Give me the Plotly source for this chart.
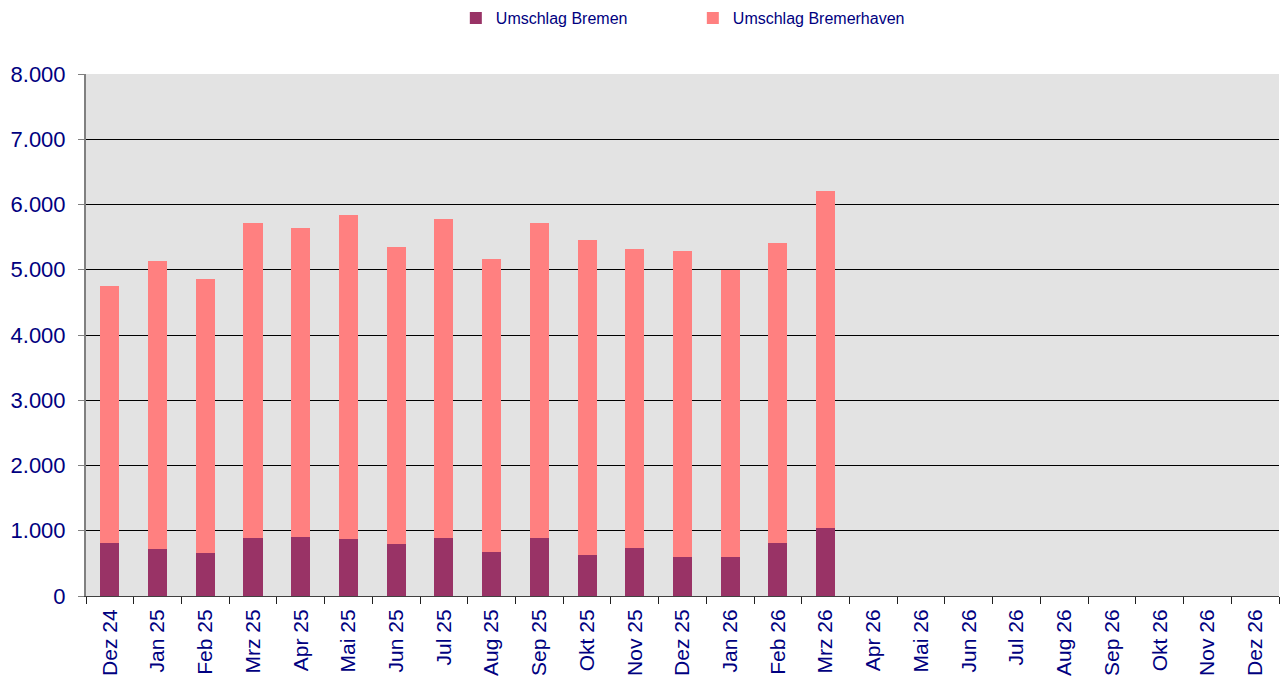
import plotly.graph_objects as go

months = ["Dez 24", "Jan 25", "Feb 25", "Mrz 25", "Apr 25", "Mai 25", "Jun 25", "Jul 25",
          "Aug 25", "Sep 25", "Okt 25", "Nov 25", "Dez 25", "Jan 26", "Feb 26", "Mrz 26",
          "Apr 26", "Mai 26", "Jun 26", "Jul 26", "Aug 26", "Sep 26", "Okt 26", "Nov 26", "Dez 26"]

umschlag_bremen = [813, 726, 654, 886, 906, 875, 798, 896, 669, 890, 634, 736, 603, 603, 813, 1036,
                   None, None, None, None, None, None, None, None, None]
umschlag_bremerhaven = [3945, 4402, 4206, 4826, 4740, 4960, 4556, 4878, 4497, 4822, 4817, 4581, 4679,
                        4397, 4602, 5164, None, None, None, None, None, None, None, None, None]

y_tickvals = [0, 1000, 2000, 3000, 4000, 5000, 6000, 7000, 8000]

navy = "#000080"
font_family = "Liberation Sans, Arial, sans-serif"

fig = go.Figure()
fig.add_trace(go.Bar(x=months, y=umschlag_bremen, name="Umschlag Bremen",
                     marker=dict(color="#993366", line=dict(width=0))))
fig.add_trace(go.Bar(x=months, y=umschlag_bremerhaven, name="Umschlag Bremerhaven",
                     marker=dict(color="#FF8080", line=dict(width=0))))

fig.update_layout(
    barmode="stack",
    bargap=0.6,
    width=1285,
    height=682,
    margin=dict(l=86, r=6, t=74, b=86, autoexpand=False),
    paper_bgcolor="white",
    plot_bgcolor="#E3E3E3",
    separators=",.",
    font=dict(family=font_family, color=navy, size=21),
    legend=dict(orientation="h", x=0.31, xanchor="left", y=1 - 18 / 682, yanchor="middle",
                yref="container",
                font=dict(size=16, color=navy), entrywidth=192, traceorder="normal",
                bgcolor="rgba(0,0,0,0)"),
    showlegend=True,
)
fig.update_xaxes(
    type="category",
    tickangle=-90,
    showline=True, linecolor="#404040", linewidth=1,
    ticks="outside", tickson="boundaries", ticklen=7, tickcolor="#202020",
    showgrid=False,
    ticklabelstandoff=4,
    tickfont=dict(size=21, color=navy),
)
fig.update_yaxes(
    range=[0, 8000],
    tickvals=y_tickvals,
    tickformat=",d",
    showgrid=True, gridcolor="black", gridwidth=1,
    zeroline=False,
    showline=True, linecolor="#808080", linewidth=2,
    ticks="outside", ticklen=6, tickcolor="#808080",
    ticklabelstandoff=8,
    tickfont=dict(size=22, color=navy),
)

fig.write_html(
    "out.html",
    config={"displayModeBar": False},
    post_script="document.body.style.margin='0';document.body.style.overflow='hidden';",
)
